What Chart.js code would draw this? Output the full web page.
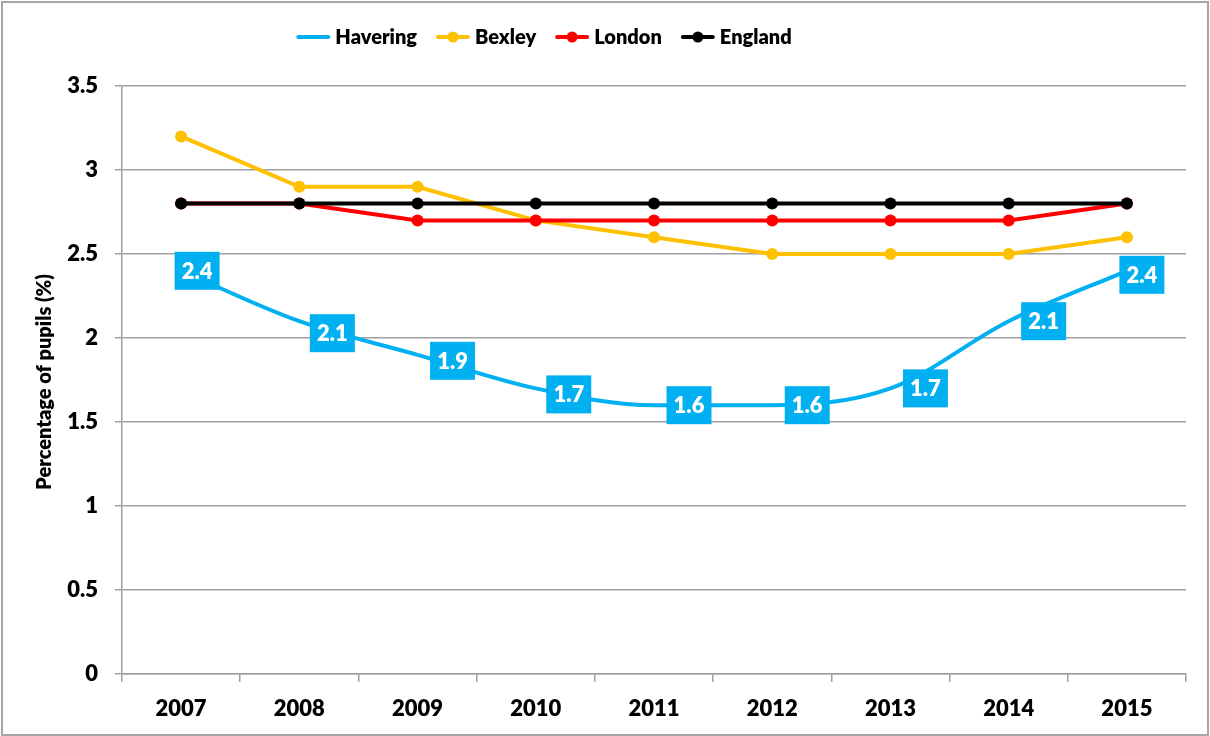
<!DOCTYPE html>
<html>
<head>
<meta charset="utf-8">
<script src="https://cdn.jsdelivr.net/npm/chart.js@4.4.1/dist/chart.umd.min.js"></script>
<style>
html,body{margin:0;padding:0;background:#fff;}
#wrap{position:relative;width:1210px;height:736px;}
canvas{display:block;}
</style>
</head>
<body>
<div id="wrap"><canvas id="c" width="1210" height="736"></canvas></div>
<script>
// ---- data ----
const years = ['2007','2008','2009','2010','2011','2012','2013','2014','2015'];
const havering = [2.4, 2.1, 1.9, 1.7, 1.6, 1.6, 1.7, 2.1, 2.4];
const bexley   = [3.2, 2.9, 2.9, 2.7, 2.6, 2.5, 2.5, 2.5, 2.6];
const london   = [2.8, 2.8, 2.7, 2.7, 2.7, 2.7, 2.7, 2.7, 2.8];
const england  = [2.8, 2.8, 2.8, 2.8, 2.8, 2.8, 2.8, 2.8, 2.8];
const seriesNames = ['Havering', 'Bexley', 'London', 'England'];
const yTickValues = [0, 0.5, 1, 1.5, 2, 2.5, 3, 3.5];
const yTickLabels = ['0', '0.5', '1', '1.5', '2', '2.5', '3', '3.5'];
const yTitle = 'Percentage of pupils (%)';

// ---- styling ----
const FONT = 'Lato, "Open Sans", sans-serif';
const WEIGHT = '800';
const colors = ['#00B0F0', '#FFC000', '#FF0000', '#000000'];
const GRID = '#A0A0A0';
// label box offsets (px) relative to each Havering point
const labelShift = [[16,0],[33,12],[35,6],[33,6],[35,0],[35,0],[35,0],[35,0],[15,4]];

const framePlugin = {
  id: 'frame',
  beforeDraw(chart) {
    const ctx = chart.ctx;
    ctx.save();
    ctx.fillStyle = '#fff';
    ctx.fillRect(0, 0, chart.width, chart.height);
    ctx.strokeStyle = '#A6A6A6';
    ctx.lineWidth = 2;
    ctx.strokeRect(2, 2, chart.width - 4, chart.height - 3);
    ctx.restore();
  }
};

// y-axis title, centred on the plot area's vertical extent
const yTitlePlugin = {
  id: 'yTitle',
  afterDraw(chart) {
    const ctx = chart.ctx;
    const s = chart.scales.y;
    ctx.save();
    ctx.translate(45, (s.top + s.bottom) / 2 + 2);
    ctx.rotate(-Math.PI / 2);
    ctx.font = WEIGHT + ' 20px ' + FONT;
    ctx.fillStyle = '#000';
    ctx.textAlign = 'center';
    ctx.textBaseline = 'middle';
    ctx.fillText(yTitle, 0, 0);
    ctx.restore();
  }
};

const labelPlugin = {
  id: 'haveringLabels',
  afterDatasetsDraw(chart) {
    const meta = chart.getDatasetMeta(0);
    const ctx = chart.ctx;
    ctx.save();
    ctx.font = WEIGHT + ' 22px ' + FONT;
    ctx.textAlign = 'center';
    ctx.textBaseline = 'middle';
    meta.data.forEach((pt, i) => {
      const [dx, dy] = labelShift[i];
      const cx = pt.x + dx, cy = pt.y + dy;
      const w = 45, h = 38;
      ctx.fillStyle = '#00B0F0';
      ctx.fillRect(cx - w / 2, cy - h / 2, w, h);
      ctx.fillStyle = '#fff';
      ctx.fillText(String(chart.data.datasets[0].data[i]), cx, cy + 1);
    });
    ctx.restore();
  }
};

const legendPlugin = {
  id: 'lineLegend',
  afterDraw(chart) {
    const ctx = chart.ctx;
    ctx.save();
    ctx.font = WEIGHT + ' 20px ' + FONT;
    ctx.textBaseline = 'middle';
    ctx.textAlign = 'left';
    const lineLen = 34, gapText = 5, gapItem = 19, cy = 37;
    const ds = chart.data.datasets;
    const widths = ds.map(d => lineLen + gapText + ctx.measureText(d.label).width);
    const total = widths.reduce((a, b) => a + b, 0) + gapItem * (ds.length - 1);
    let x = 544 - total / 2;
    ds.forEach((d, i) => {
      ctx.strokeStyle = d.borderColor;
      ctx.lineWidth = 4;
      ctx.lineCap = 'round';
      ctx.beginPath();
      ctx.moveTo(x + 2, cy);
      ctx.lineTo(x + lineLen - 2, cy);
      ctx.stroke();
      if (d.pointRadius > 0) {
        ctx.fillStyle = d.borderColor;
        ctx.beginPath();
        ctx.arc(x + lineLen / 2, cy, 5.5, 0, Math.PI * 2);
        ctx.fill();
      }
      ctx.fillStyle = '#000';
      ctx.fillText(d.label, x + lineLen + gapText, cy + 1);
      x += widths[i] + gapItem;
    });
    ctx.restore();
  }
};

function lineDs(label, data, color, order, withPoints) {
  return {
    label, data, order,
    borderColor: color,
    backgroundColor: color,
    borderWidth: 4,
    pointRadius: withPoints ? 6 : 0,
    pointHoverRadius: withPoints ? 6 : 0,
    pointBackgroundColor: color,
    pointBorderColor: color,
    pointBorderWidth: 0,
    fill: false,
    tension: 0
  };
}

const dsHavering = lineDs(seriesNames[0], havering, colors[0], 0, false);
dsHavering.cubicInterpolationMode = 'monotone';

new Chart(document.getElementById('c'), {
  type: 'line',
  data: {
    labels: years,
    datasets: [
      dsHavering,
      lineDs(seriesNames[1], bexley, colors[1], 3, true),
      lineDs(seriesNames[2], london, colors[2], 2, true),
      lineDs(seriesNames[3], england, colors[3], 1, true)
    ]
  },
  options: {
    responsive: false,
    animation: false,
    devicePixelRatio: 1,
    layout: { padding: { top: 86, right: 24, bottom: 0, left: 0 } },
    plugins: {
      legend: { display: false },
      tooltip: { enabled: false }
    },
    scales: {
      x: {
        type: 'category',
        offset: true,
        grid: { offset: true, drawOnChartArea: false, drawTicks: true, tickLength: 8, color: GRID, lineWidth: 1.5 },
        border: { display: true, color: GRID, width: 1.5 },
        ticks: { color: '#000', font: { family: FONT, size: 22, weight: WEIGHT }, padding: 14, maxRotation: 0, autoSkip: false },
        afterFit(s) { s.height = 62; }
      },
      y: {
        min: 0, max: 3.5,
        afterBuildTicks(s) { s.ticks = yTickValues.map(v => ({ value: v })); },
        grid: { color: GRID, lineWidth: 1.5, tickLength: 7, drawTicks: true },
        border: { display: true, color: GRID, width: 1.5 },
        ticks: {
          color: '#000',
          font: { family: FONT, size: 22, weight: WEIGHT },
          padding: 17,
          callback: (v) => yTickLabels[yTickValues.indexOf(v)] ?? String(v)
        },
        title: { display: false },
        afterFit(s) { s.width = 122; }
      }
    }
  },
  plugins: [framePlugin, labelPlugin, legendPlugin, yTitlePlugin]
});
</script>
</body>
</html>
